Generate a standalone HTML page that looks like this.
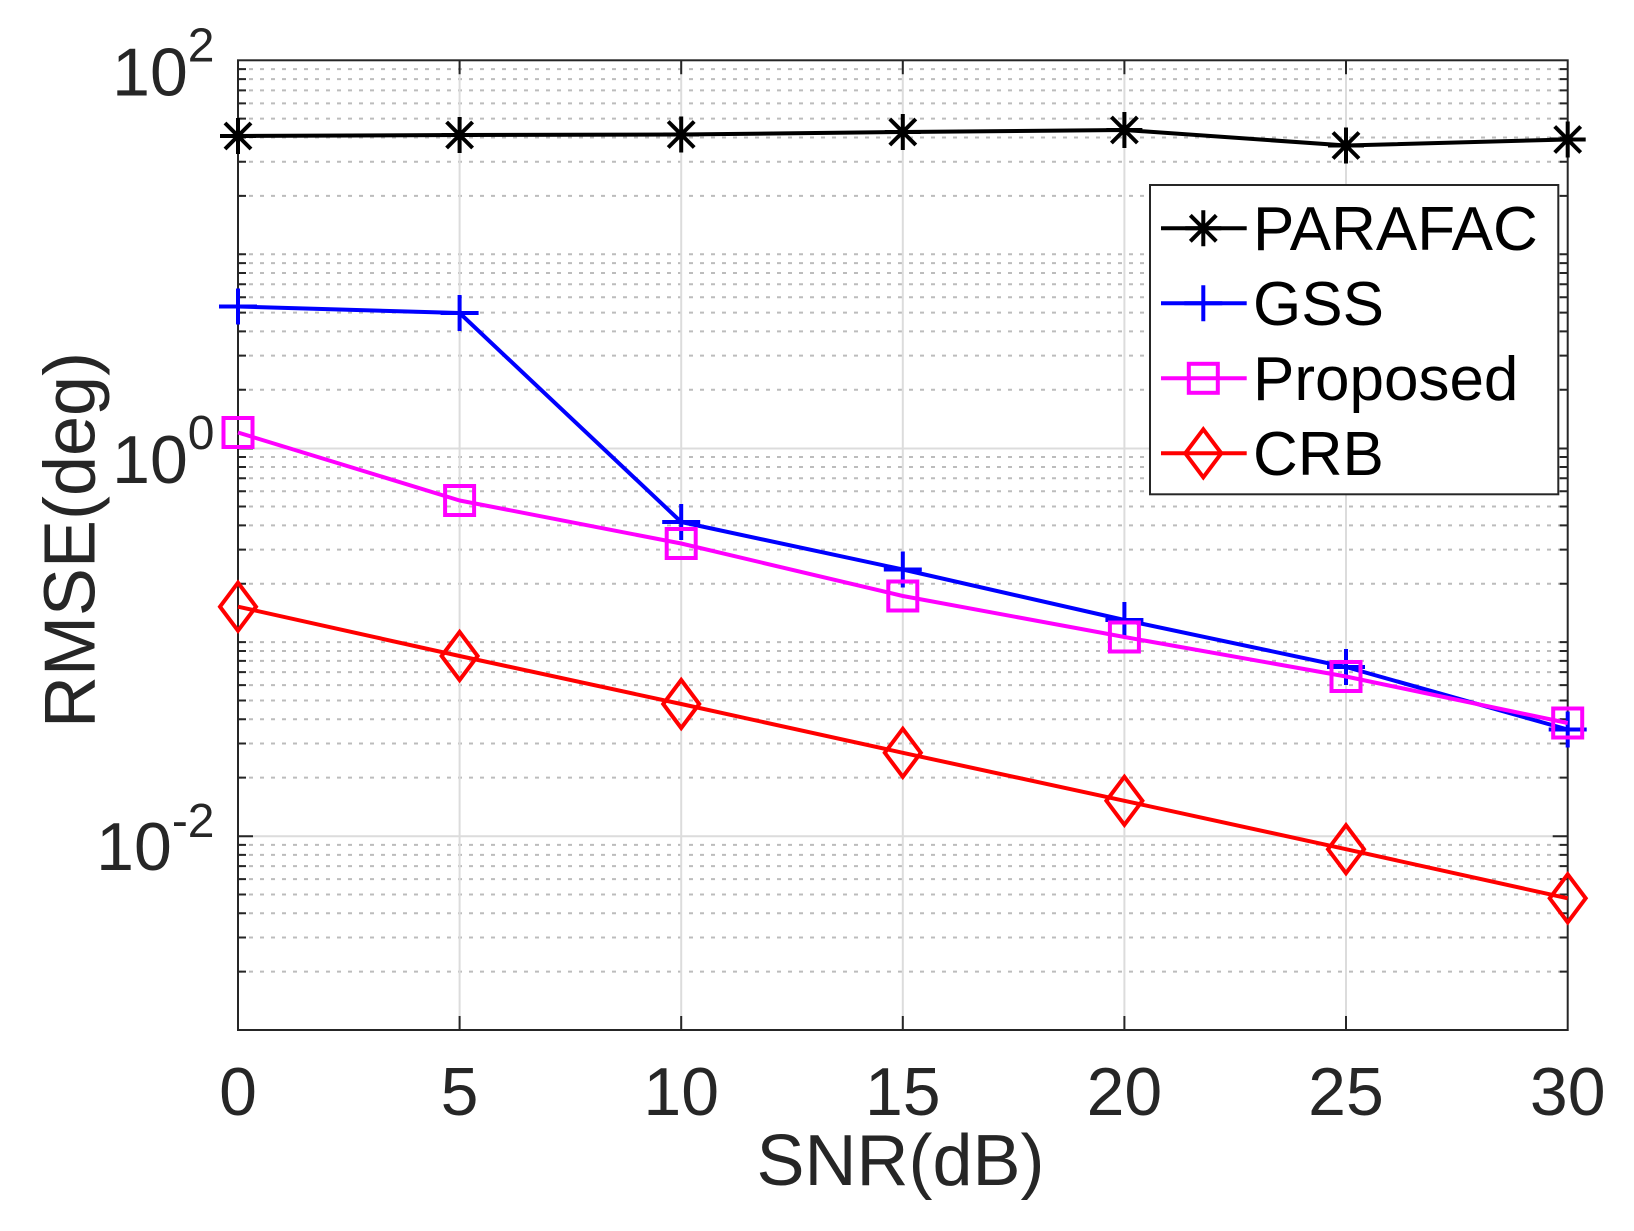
<!DOCTYPE html>
<html>
<head>
<meta charset="utf-8">
<style>
html,body{margin:0;padding:0;background:#fff;}
svg{display:block;}
text{font-family:"Liberation Sans",Arial,Helvetica,sans-serif;}
</style>
</head>
<body>
<svg width="1634" height="1231" viewBox="0 0 1634 1231" xmlns="http://www.w3.org/2000/svg">
<defs>
  <g id="mAst" fill="none" stroke="#000" stroke-width="4">
    <path d="M-18 0H18M0 -18V18M-13 -13L13 13M-13 13L13 -13"/>
  </g>
  <g id="mPlus" fill="none" stroke="#0000ff" stroke-width="4">
    <path d="M-19 0H19M0 -18V18"/>
  </g>
  <g id="mSq" fill="none" stroke="#ff00ff" stroke-width="4">
    <rect x="-14.5" y="-14.5" width="29" height="29"/>
  </g>
  <g id="mDia" fill="none" stroke="#ff0000" stroke-width="4">
    <path d="M0 -24L18 0L0 24L-18 0Z"/>
  </g>
</defs>

<rect x="0" y="0" width="1634" height="1231" fill="#fff"/>
<rect x="238" y="60.3" width="1329.7" height="969.7" fill="#fff"/>

<!-- minor dotted grid -->
<path fill="none" stroke="#bcbcbc" stroke-width="2" stroke-dasharray="4 7"
d="M238 69.17H1567.7M238 79.09H1567.7M238 90.34H1567.7M238 103.33H1567.7M238 118.68H1567.7M238 137.48H1567.7M238 161.71H1567.7M238 195.86H1567.7
M238 254.24H1567.7M238 263.11H1567.7M238 273.03H1567.7M238 284.28H1567.7M238 297.27H1567.7M238 312.62H1567.7M238 331.42H1567.7M238 355.65H1567.7M238 389.8H1567.7
M238 457.05H1567.7M238 466.97H1567.7M238 478.22H1567.7M238 491.21H1567.7M238 506.56H1567.7M238 525.36H1567.7M238 549.59H1567.7M238 583.74H1567.7
M238 642.12H1567.7M238 650.99H1567.7M238 660.91H1567.7M238 672.16H1567.7M238 685.15H1567.7M238 700.5H1567.7M238 719.3H1567.7M238 743.53H1567.7M238 777.68H1567.7
M238 844.93H1567.7M238 854.85H1567.7M238 866.1H1567.7M238 879.09H1567.7M238 894.44H1567.7M238 913.24H1567.7M238 937.47H1567.7M238 971.62H1567.7"/>

<!-- major grid -->
<path fill="none" stroke="#dcdcdc" stroke-width="2"
d="M238 448.5H1567.7M238 836.3H1567.7
M459.6 60.3V1030M681.2 60.3V1030M902.8 60.3V1030M1124.4 60.3V1030M1346 60.3V1030"/>

<!-- axes box -->
<rect x="238" y="60.3" width="1329.7" height="969.7" fill="none" stroke="#262626" stroke-width="2"/>

<!-- ticks -->
<path fill="none" stroke="#262626" stroke-width="2"
d="M459.6 1030v-14M681.2 1030v-14M902.8 1030v-14M1124.4 1030v-14M1346 1030v-14
M459.6 60.3v14M681.2 60.3v14M902.8 60.3v14M1124.4 60.3v14M1346 60.3v14
M238 448.5h15M238 836.3h15M1567.7 448.5h-15M1567.7 836.3h-15
M238 69.17h8M238 79.09h8M238 90.34h8M238 103.33h8M238 118.68h8M238 137.48h8M238 161.71h8M238 195.86h8
M238 254.24h8M238 263.11h8M238 273.03h8M238 284.28h8M238 297.27h8M238 312.62h8M238 331.42h8M238 355.65h8M238 389.8h8
M238 457.05h8M238 466.97h8M238 478.22h8M238 491.21h8M238 506.56h8M238 525.36h8M238 549.59h8M238 583.74h8
M238 642.12h8M238 650.99h8M238 660.91h8M238 672.16h8M238 685.15h8M238 700.5h8M238 719.3h8M238 743.53h8M238 777.68h8
M238 844.93h8M238 854.85h8M238 866.1h8M238 879.09h8M238 894.44h8M238 913.24h8M238 937.47h8M238 971.62h8
M1567.7 69.17h-8M1567.7 79.09h-8M1567.7 90.34h-8M1567.7 103.33h-8M1567.7 118.68h-8M1567.7 137.48h-8M1567.7 161.71h-8M1567.7 195.86h-8
M1567.7 254.24h-8M1567.7 263.11h-8M1567.7 273.03h-8M1567.7 284.28h-8M1567.7 297.27h-8M1567.7 312.62h-8M1567.7 331.42h-8M1567.7 355.65h-8M1567.7 389.8h-8
M1567.7 457.05h-8M1567.7 466.97h-8M1567.7 478.22h-8M1567.7 491.21h-8M1567.7 506.56h-8M1567.7 525.36h-8M1567.7 549.59h-8M1567.7 583.74h-8
M1567.7 642.12h-8M1567.7 650.99h-8M1567.7 660.91h-8M1567.7 672.16h-8M1567.7 685.15h-8M1567.7 700.5h-8M1567.7 719.3h-8M1567.7 743.53h-8M1567.7 777.68h-8
M1567.7 844.93h-8M1567.7 854.85h-8M1567.7 866.1h-8M1567.7 879.09h-8M1567.7 894.44h-8M1567.7 913.24h-8M1567.7 937.47h-8M1567.7 971.62h-8"/>

<!-- x tick labels -->
<g fill="#262626" font-size="68" text-anchor="middle">
  <text x="238" y="1115">0</text>
  <text x="459.6" y="1115">5</text>
  <text x="681.2" y="1115">10</text>
  <text x="902.8" y="1115">15</text>
  <text x="1124.4" y="1115">20</text>
  <text x="1346" y="1115">25</text>
  <text x="1567.7" y="1115">30</text>
</g>

<!-- y tick labels -->
<g fill="#262626" font-size="68" text-anchor="end">
  <text x="214.5" y="95.5">10<tspan font-size="48" dy="-34">2</tspan></text>
  <text x="214.5" y="483">10<tspan font-size="48" dy="-34">0</tspan></text>
  <text x="214.5" y="870">10<tspan font-size="48" dy="-33">-2</tspan></text>
</g>

<!-- axis labels -->
<text x="900.5" y="1185" font-size="72" fill="#262626" text-anchor="middle">SNR(dB)</text>
<text transform="translate(94.3,540) rotate(-90)" font-size="72" fill="#262626" text-anchor="middle">RMSE(deg)</text>

<!-- PARAFAC -->
<polyline fill="none" stroke="#000" stroke-width="4" stroke-linejoin="round"
points="238,136 459.6,135 681.2,134.5 902.8,132 1124.4,130 1346,145.5 1567.7,139.5"/>
<use href="#mAst" x="238" y="136"/>
<use href="#mAst" x="459.6" y="135"/>
<use href="#mAst" x="681.2" y="134.5"/>
<use href="#mAst" x="902.8" y="132"/>
<use href="#mAst" x="1124.4" y="130"/>
<use href="#mAst" x="1346" y="145.5"/>
<use href="#mAst" x="1567.7" y="139.5"/>

<!-- GSS -->
<polyline fill="none" stroke="#0000ff" stroke-width="4" stroke-linejoin="round"
points="238,306.5 459.6,313 681.2,522 902.8,569.5 1124.4,620 1346,667 1567.7,729.5"/>
<use href="#mPlus" x="238" y="306.5"/>
<use href="#mPlus" x="459.6" y="313"/>
<use href="#mPlus" x="681.2" y="522"/>
<use href="#mPlus" x="902.8" y="569.5"/>
<use href="#mPlus" x="1124.4" y="620"/>
<use href="#mPlus" x="1346" y="667"/>
<use href="#mPlus" x="1567.7" y="729.5"/>

<!-- Proposed -->
<polyline fill="none" stroke="#ff00ff" stroke-width="4" stroke-linejoin="round"
points="238,432.5 459.6,500.5 681.2,543.5 902.8,596 1124.4,637 1346,676.5 1567.7,723"/>
<use href="#mSq" x="238" y="432.5"/>
<use href="#mSq" x="459.6" y="500.5"/>
<use href="#mSq" x="681.2" y="543.5"/>
<use href="#mSq" x="902.8" y="596"/>
<use href="#mSq" x="1124.4" y="637"/>
<use href="#mSq" x="1346" y="676.5"/>
<use href="#mSq" x="1567.7" y="723"/>

<!-- CRB -->
<polyline fill="none" stroke="#ff0000" stroke-width="4" stroke-linejoin="round"
points="238,606.7 459.6,656 681.2,704 902.8,752.8 1124.4,800.8 1346,849.2 1567.7,898.3"/>
<use href="#mDia" x="238" y="606.7"/>
<use href="#mDia" x="459.6" y="656"/>
<use href="#mDia" x="681.2" y="704"/>
<use href="#mDia" x="902.8" y="752.8"/>
<use href="#mDia" x="1124.4" y="800.8"/>
<use href="#mDia" x="1346" y="849.2"/>
<use href="#mDia" x="1567.7" y="898.3"/>

<!-- legend -->
<rect x="1150" y="185" width="408.3" height="309.3" fill="#fff" stroke="#262626" stroke-width="2"/>
<path d="M1161 228.3H1246.7" stroke="#000" stroke-width="4"/>
<use href="#mAst" x="1203.3" y="228.3"/>
<path d="M1161 303.3H1246.7" stroke="#0000ff" stroke-width="4"/>
<use href="#mPlus" x="1203.3" y="303.3"/>
<path d="M1161 378.3H1246.7" stroke="#ff00ff" stroke-width="4"/>
<use href="#mSq" x="1203.3" y="378.3"/>
<path d="M1161 453.3H1246.7" stroke="#ff0000" stroke-width="4"/>
<use href="#mDia" x="1203.3" y="453.3"/>
<g fill="#000" font-size="62">
  <text x="1253" y="250">PARAFAC</text>
  <text x="1253" y="325">GSS</text>
  <text x="1253" y="400">Proposed</text>
  <text x="1253" y="475">CRB</text>
</g>
</svg>
</body>
</html>
